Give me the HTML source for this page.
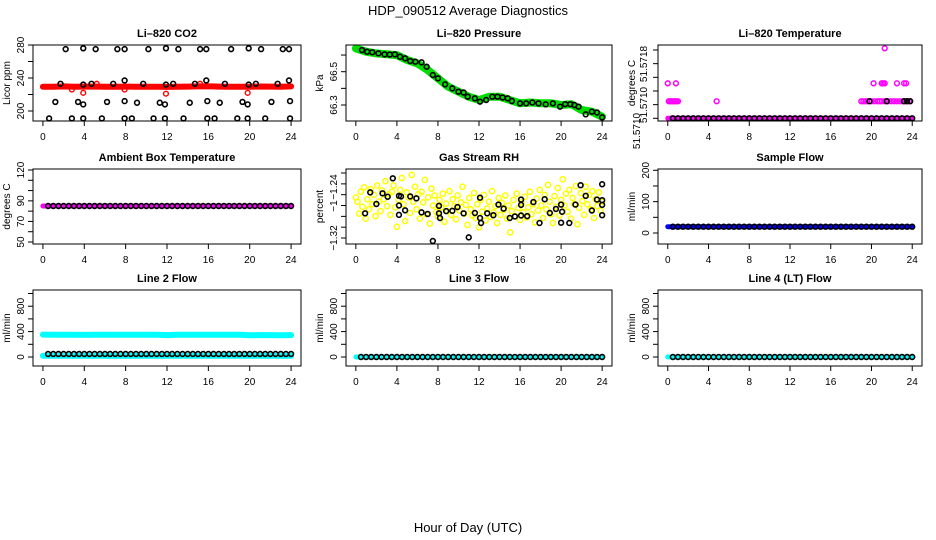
<!DOCTYPE html>
<html><head><meta charset="utf-8"><style>
html,body{margin:0;padding:0;background:#fff;}
svg{display:block;font-family:"Liberation Sans",sans-serif;}
</style></head><body>
<svg id="chart" width="936" height="540" viewBox="0 0 936 540" xmlns="http://www.w3.org/2000/svg">
<rect width="936" height="540" fill="#fff"/>
<text x="468" y="15" font-size="13" text-anchor="middle">HDP_090512  Average Diagnostics</text>
<text x="468" y="532" font-size="13" text-anchor="middle">Hour of Day (UTC)</text>
</svg>
<script>
// ---------- data ----------
const xTicks = [0,4,8,12,16,20,24];
const hours = [0,1,2,3,4,5,6,7,8,9,10,11,12,13,14,15,16,17,18,19,20,21,22,23,24];
const halfHours = [0.5,1,1.5,2,2.5,3,3.5,4,4.5,5,5.5,6,6.5,7,7.5,8,8.5,9,9.5,10,10.5,11,11.5,12,12.5,13,13.5,14,14.5,15,15.5,16,16.5,17,17.5,18,18.5,19,19.5,20,20.5,21,21.5,22,22.5,23,23.5,24];

// CO2
const co2Red = [229.5,229.5,229.8,229.4,229.6,229.7,229.3,229.5,229.6,229.4,229.5,229.3,229.2,229.5,229.6,229.8,229.9,229.6,229.5,229.4,229.5,229.7,229.6,229.5,229.8];
const co2BlackT = [2.2,3.9,5.1,7.2,7.9,10.2,11.9,13.1,15.2,15.8,18.2,19.9,21.1,23.2,23.8,
 1.7,3.9,4.7,6.8,7.9,9.7,11.9,12.6,14.7,15.8,17.6,19.9,20.6,22.7,23.8,
 1.2,3.4,3.9,6.2,7.9,9.1,11.3,11.8,14.2,15.9,17.1,19.3,19.8,22.1,23.9,
 0.6,2.8,3.9,5.7,7.9,8.6,10.7,11.8,13.6,15.9,16.6,18.8,19.8,21.5,23.9];
const co2BlackV = [275,276,275,275,275,275,276,275,275,275,275,276,275,275,275,
 233,232,233,233,237,233,232,233,233,237,233,232,233,233,237,
 211,211,208,211,212,210,210,208,210,212,210,211,208,211,212,
 191,191,191,191,191,191,191,191,191,191,191,191,191,191,191];
const co2RedOutT = [3.9,7.9,11.9,19.8,2.8,5.2,15.2];
const co2RedOutV = [222,226,221,222,226,233,233];

// Pressure
const presGreen = [66.64,66.62,66.61,66.605,66.60,66.57,66.55,66.51,66.46,66.41,66.38,66.35,66.33,66.35,66.35,66.33,66.31,66.315,66.31,66.31,66.30,66.305,66.27,66.26,66.23];
const presBlackT = [0.6,1.1,1.6,2.2,2.8,3.3,3.8,4.3,4.8,5.3,5.8,6.4,6.9,7.5,8,8.7,9.4,10,10.5,10.9,11.6,12.1,12.7,13.3,13.8,14.3,14.8,15.2,16,16.6,17.2,17.8,18.5,19.2,19.9,20.4,20.9,21.3,21.7,22.4,23,23.5,24];
const presBlackV = [66.63,66.62,66.617,66.61,66.604,66.603,66.604,66.59,66.58,66.564,66.56,66.556,66.53,66.48,66.46,66.424,66.40,66.38,66.375,66.35,66.34,66.32,66.33,66.35,66.35,66.345,66.34,66.324,66.31,66.31,66.315,66.31,66.304,66.31,66.29,66.305,66.305,66.30,66.29,66.244,66.26,66.255,66.226];

// Li-820 temperature
const tempMag = [51.5710,51.5710,51.5710,51.5710,51.5710,51.5710,51.5710,51.5710,51.5710,51.5710,51.5710,51.5710,51.5710,51.5710,51.5710,51.5710,51.5710,51.5710,51.5710,51.5710,51.5710,51.5710,51.5710,51.5710,51.5710];
const tempMagOutT = [0.1,0.25,0.4,0.55,0.7,0.85,1.0,4.8,19.0,19.2,19.4,19.6,20.0,20.3,20.6,20.8,21.0,21.3,21.6,21.9,22.2,22.5,22.8,23.1,23.4,23.7,0.0,0.8,20.2,21.0,21.15,21.3,22.5,23.2,23.4,21.3];
const tempMagOutV = [51.5712,51.5712,51.5712,51.5712,51.5712,51.5712,51.5712,51.5712,51.5712,51.5712,51.5712,51.5712,51.5712,51.5712,51.5712,51.5712,51.5712,51.5712,51.5712,51.5712,51.5712,51.5712,51.5712,51.5712,51.5712,51.5712,51.57141,51.57141,51.57141,51.57141,51.57141,51.57141,51.57141,51.57141,51.57141,51.57182];
const tempBlack = [51.5710,51.5710,51.5710,51.5710,51.5710,51.5710,51.5710,51.5710,51.5710,51.5710,51.5710,51.5710,51.5710,51.5710,51.5710,51.5710,51.5710,51.5710,51.5710,51.5710,51.5710,51.5710,51.5710,51.5710,51.5710,51.5710,51.5710,51.5710,51.5710,51.5710,51.5710,51.5710,51.5710,51.5710,51.5710,51.5710,51.5710,51.5710,51.5710,51.5710,51.5710,51.5710,51.5710,51.5710,51.5710,51.5710,51.5710,51.5710];
const tempBlackOutT = [19.8,21.5,23.2,23.5,23.8];
const tempBlackOutV = [51.5712,51.5712,51.5712,51.5712,51.5712];

// Ambient box temperature
const ambMag = [85,85,85,85,85,85,85,85,85,85,85,85,85,85,85,85,85,85,85,85,85,85,85,85,85];
const ambBlack = [85,85,85,85,85,85,85,85,85,85,85,85,85,85,85,85,85,85,85,85,85,85,85,85,85,85,85,85,85,85,85,85,85,85,85,85,85,85,85,85,85,85,85,85,85,85,85,85];

// Gas stream RH (yellow sampled every 0.16 h)
const rhYellow = [
-1.255,-1.262,-1.281,-1.246,-1.270,-1.239,-1.289,-1.258,-1.274,-1.242,
-1.266,-1.251,-1.285,-1.236,-1.262,-1.277,-1.244,-1.258,-1.229,-1.269,
-1.250,-1.283,-1.246,-1.236,-1.271,-1.302,-1.259,-1.243,-1.224,-1.266,
-1.293,-1.247,-1.255,-1.280,-1.219,-1.262,-1.238,-1.274,-1.250,-1.289,
-1.246,-1.263,-1.227,-1.282,-1.255,-1.297,-1.241,-1.268,-1.252,-1.278,
-1.286,-1.259,-1.271,-1.249,-1.294,-1.265,-1.277,-1.245,-1.283,-1.258,
-1.269,-1.290,-1.252,-1.276,-1.263,-1.238,-1.281,-1.267,-1.299,-1.256,
-1.274,-1.284,-1.248,-1.288,-1.266,-1.303,-1.259,-1.278,-1.251,-1.292,
-1.273,-1.262,-1.286,-1.245,-1.279,-1.269,-1.296,-1.256,-1.283,-1.264,
-1.275,-1.252,-1.289,-1.268,-1.311,-1.277,-1.259,-1.285,-1.249,-1.272,
-1.291,-1.263,-1.279,-1.254,-1.287,-1.271,-1.246,-1.282,-1.266,-1.295,
-1.257,-1.276,-1.243,-1.268,-1.288,-1.251,-1.274,-1.235,-1.262,-1.282,
-1.296,-1.253,-1.270,-1.240,-1.284,-1.259,-1.226,-1.268,-1.249,-1.278,
-1.243,-1.289,-1.256,-1.266,-1.237,-1.298,-1.272,-1.248,-1.261,-1.283,
-1.238,-1.266,-1.251,-1.274,-1.245,-1.288,-1.258,-1.269,-1.247,-1.276,-1.262];
const rhBlackT = [0.9,1.4,2,2.6,3.1,3.6,4.2,4.2,4.2,4.4,4.8,5.3,5.9,6.4,7,7.5,8.1,8.1,8.2,8.8,9.4,9.9,10.5,11,11.6,12.1,12.1,12.2,12.8,13.4,13.9,14.4,15,15.5,16.1,16.1,16.1,16.7,17.3,17.9,18.4,18.9,19.5,20,20,20.1,20.8,21.4,21.9,22.4,23,23.5,24,24,24,24];
const rhBlackV = [-1.2805,-1.247,-1.2656,-1.2485,-1.254,-1.2245,-1.2525,-1.268,-1.283,-1.2535,-1.2757,-1.2535,-1.2565,-1.279,-1.2815,-1.3248,-1.2685,-1.2805,-1.288,-1.277,-1.2765,-1.2705,-1.2805,-1.319,-1.28,-1.2555,-1.288,-1.296,-1.2805,-1.2835,-1.2665,-1.273,-1.288,-1.2855,-1.284,-1.2585,-1.267,-1.285,-1.2625,-1.296,-1.258,-1.28,-1.2735,-1.2665,-1.2955,-1.278,-1.296,-1.2665,-1.2355,-1.2525,-1.276,-1.2585,-1.234,-1.2595,-1.267,-1.2835];

// Sample flow
const sfBlue = [20,20,20,20,20,20,20,20,20,20,20,20,20,20,20,20,20,20,20,20,20,20,20,20,20];
const sfBlack = [20,20,20,20,20,20,20,20,20,20,20,20,20,20,20,20,20,20,20,20,20,20,20,20,20,20,20,20,20,20,20,20,20,20,20,20,20,20,20,20,20,20,20,20,20,20,20,20];

// Line flows
const l2CyanHigh = [352,350,350,349,348,349,350,349,350,350,350,349,345,350,350,350,350,350,350,350,342,345,345,344,345];
const l2CyanLow = [20,20,20,20,20,20,20,20,20,20,20,20,20,20,20,20,20,20,20,20,20,20,20,20,20];
const l2Black = [48,48,48,48,48,48,48,48,48,48,48,48,48,48,48,48,48,48,48,48,48,48,48,48,48,48,48,48,48,48,48,48,48,48,48,48,48,48,48,48,48,48,48,48,48,48,48,48];
const l3Cyan = [0,0,0,0,0,0,0,0,0,0,0,0,0,0,0,0,0,0,0,0,0,0,0,0,0];
const l3Black = [0,0,0,0,0,0,0,0,0,0,0,0,0,0,0,0,0,0,0,0,0,0,0,0,0,0,0,0,0,0,0,0,0,0,0,0,0,0,0,0,0,0,0,0,0,0,0,0];
const l4Cyan = [0,0,0,0,2,0,0,0,0,0,0,0,2,0,0,0,0,0,0,0,0,0,0,0,0];
const l4Black = [0,0,0,0,0,0,0,0,0,0,0,0,0,0,0,0,0,0,0,0,0,0,0,0,0,0,0,0,0,0,0,0,0,0,0,0,0,0,0,0,0,0,0,0,0,0,0,0];

// ---------- drawing ----------
const NS = 'http://www.w3.org/2000/svg';
const svg = document.getElementById('chart');
function mk(tag, attrs, parent){
  const e = document.createElementNS(NS, tag);
  for (const k in attrs) e.setAttribute(k, attrs[k]);
  parent.appendChild(e);
  return e;
}
function panel(o){
  const g = mk('g', {}, svg);
  
  
  const sx = t => o.x0 + (t + 0.96) / 25.92 * (o.x1 - o.x0);
  const sy = v => o.py1 + (v - o.v1) * (o.py2 - o.py1) / (o.v2 - o.v1);
  o.sx = sx; o.sy = sy; o.g = g;
  const title = mk('text', {x:(o.x0+o.x1)/2, y:o.y0-8, 'font-size':11, 'font-weight':'bold', 'text-anchor':'middle'}, g);
  
  
  title.textContent = o.title;
  xTicks.forEach(t => {
    const l = mk('line', {x1:sx(t), x2:sx(t), y1:o.y1, y2:o.y1+5, stroke:'#000', 'stroke-width':1}, g);
    
    
    const tx = mk('text', {x:sx(t), y:o.y1+19, 'font-size':10, 'text-anchor':'middle'}, g);
    
    
    tx.textContent = t;
  });
  o.yTicks.forEach(v => {
    const l = mk('line', {x1:o.x0-5, x2:o.x0, y1:sy(v), y2:sy(v), stroke:'#000', 'stroke-width':1}, g);
    
    
  });
  o.yLabels.forEach((lab, i) => {
    const yy = o.yLabelPos ? o.yLabelPos[i] : sy(lab);
    const xx = o.yLabelX ? o.yLabelX[i] : o.x0 - 9;
    const tx = mk('text', {x:0, y:0, 'font-size':10, 'text-anchor':'middle', transform:`translate(${xx},${yy}) rotate(-90)`}, g);
    
    
    tx.textContent = o.yLabelText ? o.yLabelText[i] : String(lab);
  });
  const yt = mk('text', {x:0, y:0, 'font-size':10, 'text-anchor':'middle', transform:`translate(${o.x0-23},${(o.y0+o.y1)/2}) rotate(-90)`}, g);
  
  
  yt.textContent = o.ytitle;
  return o;
}
function frame(o){
  const r = mk('rect', {x:o.x0, y:o.y0, width:o.x1-o.x0, height:o.y1-o.y0, fill:'none', stroke:'#000', 'stroke-width':1}, o.g);
  
  
}
function band(o, ts, vs, color, w){
  const pts = ts.map((t,i) => o.sx(t).toFixed(1) + ',' + o.sy(vs[i]).toFixed(1)).join(' ');
  const p = mk('polyline', {points:pts, fill:'none', stroke:color, 'stroke-width':w, 'stroke-linecap':'round', 'stroke-linejoin':'round'}, o.g);
  
  
}
function dots(o, ts, vs, color, r, sw){
  ts.forEach((t,i) => {
    const c = mk('circle', {cx:o.sx(t), cy:o.sy(vs[i]), r:r, fill:'none', stroke:color, 'stroke-width':sw}, o.g);
    
    
  });
}
const BR = 2.4, BW = 1.6;

// Row 1
const p1 = panel({name:'co2', title:'Li\u2013820 CO2', ytitle:'Licor ppm', x0:33, x1:301, y0:45, y1:121,
  v1:200, py1:111, v2:280, py2:45, yTicks:[200,220,240,260,280], yLabels:[200,240,280]});
band(p1, hours, co2Red, '#ff0000', 6);
dots(p1, co2RedOutT, co2RedOutV, '#ff0000', BR, 1.4);
dots(p1, co2BlackT, co2BlackV, '#000', BR, BW);
frame(p1);

const p2 = panel({name:'pressure', title:'Li\u2013820 Pressure', ytitle:'kPa', x0:346, x1:612, y0:45, y1:121,
  v1:66.3, py1:105, v2:66.5, py2:71.7, yTicks:[66.3,66.4,66.5,66.6], yLabels:[66.3,66.5]});
band(p2, hours, presGreen, '#00dd00', 8);
dots(p2, presBlackT, presBlackV, '#000', BR, BW);
frame(p2);

const p3 = panel({name:'li820-temperature', title:'Li\u2013820 Temperature', ytitle:'degrees C', x0:658, x1:922, y0:45, y1:121,
  v1:51.5710, py1:118.3, v2:51.5718, py2:50,
  yTicks:[51.5710,51.57116,51.57132,51.57148,51.57164,51.5718],
  yLabels:[51.5718,51.5710,51.5710], yLabelText:['51.5718','51.5710','51.5710'], yLabelPos:[64,105,131], yLabelX:[647,647,640]});
band(p3, hours, tempMag, '#ff00ff', 5);
dots(p3, tempMagOutT, tempMagOutV, '#ff00ff', BR, 1.5);
dots(p3, halfHours, tempBlack, '#000', BR, BW);
dots(p3, tempBlackOutT, tempBlackOutV, '#000', BR, BW);
frame(p3);

// Row 2
const p4 = panel({name:'ambient-temperature', title:'Ambient Box Temperature', ytitle:'degrees C', x0:33, x1:301, y0:169, y1:244,
  v1:50, py1:242, v2:120, py2:170, yTicks:[50,60,70,80,90,100,110,120], yLabels:[50,70,90,120]});
band(p4, hours, ambMag, '#ff00ff', 5);
dots(p4, halfHours, ambBlack, '#000', BR, BW);
frame(p4);

const p5 = panel({name:'gas-stream-rh', title:'Gas Stream RH', ytitle:'percent', x0:346, x1:612, y0:169, y1:244,
  v1:-1.32, py1:238, v2:-1.24, py2:188,
  yTicks:[-1.32,-1.3027,-1.2854,-1.2680,-1.2507,-1.2334,-1.2160],
  yLabels:[-1.24,-1.28,-1.32], yLabelText:['\u22121.24','\u22121','\u22121.32'], yLabelPos:[187,206,238]});
const rhT = rhYellow.map((v,i) => i * 0.16);
dots(p5, rhT, rhYellow, '#ffff00', 2.6, 1.5);
dots(p5, rhBlackT, rhBlackV, '#000', BR, BW);
frame(p5);

const p6 = panel({name:'sample-flow', title:'Sample Flow', ytitle:'ml/min', x0:658, x1:922, y0:169, y1:244,
  v1:0, py1:233, v2:200, py2:170.3, yTicks:[0,50,100,150,200], yLabels:[0,100,200]});
band(p6, hours, sfBlue, '#0000ff', 5);
dots(p6, halfHours, sfBlack, '#000', BR, BW);
frame(p6);

// Row 3
const flowCommon = {ytitle:'ml/min', y0:290, y1:366, v1:0, py1:357, v2:800, py2:306.2, yTicks:[0,200,400,600,800,1000], yLabels:[0,400,800]};
const p7 = panel(Object.assign({name:'line2-flow', title:'Line 2 Flow', x0:33, x1:301}, flowCommon));
band(p7, hours, l2CyanHigh, '#00ffff', 6);
band(p7, hours, l2CyanLow, '#00ffff', 6);
dots(p7, halfHours, l2Black, '#000', BR, BW);
frame(p7);

const p8 = panel(Object.assign({name:'line3-flow', title:'Line 3 Flow', x0:346, x1:612}, flowCommon));
band(p8, hours, l3Cyan, '#00ffff', 5);
dots(p8, halfHours, l3Black, '#000', BR, BW);
frame(p8);

const p9 = panel(Object.assign({name:'line4-flow', title:'Line 4 (LT) Flow', x0:658, x1:922}, flowCommon));
band(p9, hours, l4Cyan, '#00ffff', 5);
dots(p9, halfHours, l4Black, '#000', BR, BW);
frame(p9);
</script>
</body></html>
